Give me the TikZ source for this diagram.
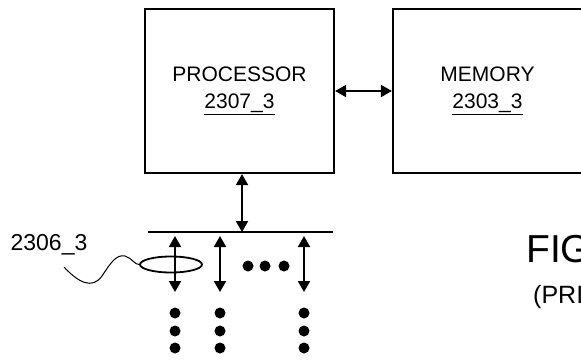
\documentclass[tikz,border=0pt]{standalone}
\usepackage{fontspec}
\setmainfont{Liberation Sans}
\usetikzlibrary{arrows.meta,positioning,shapes.geometric}

\begin{document}
\begin{tikzpicture}[x=1pt,y=-1pt,
  box/.style={rectangle,draw,line width=2.2pt,minimum width=189pt,minimum height=164pt,align=center,font=\fontsize{21}{27}\selectfont},
  arrow/.style={{Triangle[length=11pt,width=12pt]}-{Triangle[length=11pt,width=12pt]},line width=2pt},
  bigdot/.style={circle,fill,inner sep=0pt,minimum size=11pt},
  bundle/.style={ellipse,draw,line width=1.8pt,inner sep=0pt,minimum width=62pt,minimum height=16pt}
]
\clip (0,0) rectangle (581,359);
\useasboundingbox (0,0) rectangle (581,359);
\node[box] (proc) at (239.5,91) {PROCESSOR\\\underline{2307\_3}};
\node[box] (mem) at (487.5,91) {MEMORY\\\underline{2303\_3}};
\draw[arrow] (proc) -- (mem);
% bus
\coordinate (busL) at (148,232);
\coordinate (busR) at (333,232);
\coordinate (busP) at (242,232);
\draw[line width=2pt] (busL) -- (busR);
\draw[arrow] (proc.south -| busP) -- (busP);
% lanes
\foreach \i/\x in {1/175,2/220,3/304}{
  \coordinate (lt\i) at (\x,236);
  \coordinate (lb\i) at (\x,292);
  \draw[arrow] (lt\i) -- (lb\i);
  \foreach \y in {313,331,348}
    \node[bigdot] at (\x,\y) {};
}
\foreach \x in {248,265,284}
  \node[bigdot] at (\x,266) {};
\node[bundle] (lane) at (171,264.5) {};
\node[font=\fontsize{23}{26}\selectfont] (lbl) at (49,245) {2306\_3};
\coordinate (lead) at (64,267);
\draw[line width=1pt] (lead) .. controls (78,282) and (92,290) .. (102,276)
  .. controls (110,264) and (116,254) .. (125,256) .. controls (132,258) and (135,265) .. (lane.west);
\node[anchor=base west,font=\fontsize{39}{40}\selectfont,inner sep=0pt] (fig) at (526,262) {FIG};
\node[anchor=base west,font=\fontsize{25}{26}\selectfont,inner sep=0pt] (prior) at (533,303) {(PRI};
\end{tikzpicture}
\end{document}
